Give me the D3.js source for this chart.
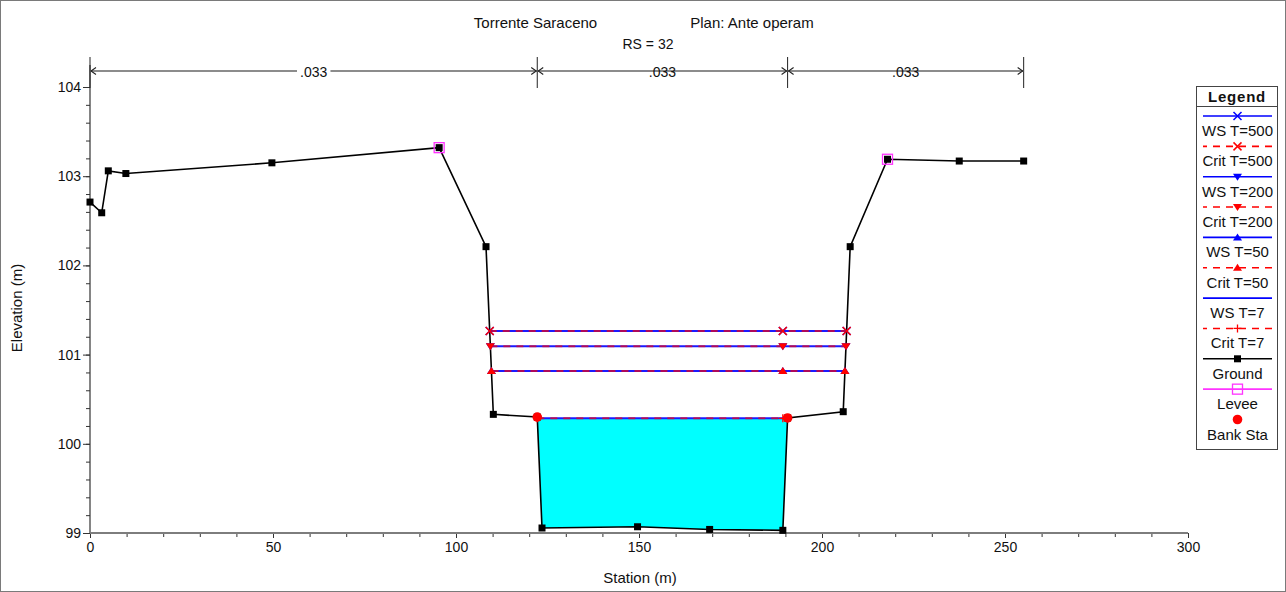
<!DOCTYPE html>
<html><head><meta charset="utf-8">
<script src="https://cdn.jsdelivr.net/npm/d3@7"></script>
<style>body{margin:0;background:#fff}svg{display:block;font-family:"Liberation Sans",Arial,sans-serif}</style>
</head><body><svg id="c" width="1286" height="592"></svg>
<script>
// ---------- data ----------
const groundStation = [0, 3.2, 5.0, 9.8, 49.7, 95.4, 108.2, 110.2, 122.2, 123.5, 149.6, 169.3, 189.3, 190.6, 205.8, 207.7, 217.9, 237.5, 255.1];
const groundElev    = [102.71, 102.59, 103.06, 103.03, 103.15, 103.32, 102.21, 100.33, 100.30, 99.056, 99.07, 99.04, 99.03, 100.29, 100.36, 102.21, 103.19, 103.17, 103.17];
const leveeStation = [95.4, 217.9];
const leveeElev = [103.32, 103.19];
const bankStation = [122.2, 190.6];
const bankElev = [100.30, 100.29];
const profileNames = ["T=500", "T=200", "T=50", "T=7"];
const wsElev   = [101.265, 101.093, 100.816, 100.286];
const critElev = [101.265, 101.093, 100.816, 100.286];
const profileMarkerStation = 189.3;
const nStations = [0, 122.2, 190.6, 255.1];
const nValues = [".033", ".033", ".033"];
const xTicks = [0, 50, 100, 150, 200, 250, 300];
const yTicks = [99, 100, 101, 102, 103, 104];
const legendLabels = ["WS T=500", "Crit T=500", "WS T=200", "Crit T=200", "WS T=50", "Crit T=50", "WS T=7", "Crit T=7", "Ground", "Levee", "Bank Sta"];

// ---------- layout ----------
const svg = d3.select("#c");
const x = d3.scaleLinear().domain([0, 300]).range([90, 1188]);
const y = d3.scaleLinear().domain([99, 104]).range([533, 87]);

svg.append("rect").attr("x", 0.5).attr("y", 0.5).attr("width", 1285).attr("height", 591)
  .attr("fill", "#fff").attr("stroke", "#7a7a7a");

// titles
svg.append("text").attr("x", 535.5).attr("y", 28).attr("text-anchor", "middle").attr("font-size", 15).attr("fill", "#111").text("Torrente Saraceno");
svg.append("text").attr("x", 752).attr("y", 28).attr("text-anchor", "middle").attr("font-size", 15).attr("fill", "#111").text("Plan: Ante operam");
svg.append("text").attr("x", 648).attr("y", 49).attr("text-anchor", "middle").attr("font-size", 14).attr("fill", "#111").text("RS = 32");

// axes
const yMinor = d3.range(99, 104.001, 0.2);
const xMinor = d3.range(0, 300.001, 10);
const ga = svg.append("g");
ga.append("g").attr("transform", "translate(90,0)")
  .call(d3.axisLeft(y).tickValues(yMinor).tickSize(4).tickFormat(""))
  .call(g => g.select(".domain").remove())
  .call(g => g.selectAll("line").attr("stroke", "#333"));
ga.append("g").attr("transform", "translate(90,0)")
  .call(d3.axisLeft(y).tickValues(yTicks).tickSize(7).tickPadding(2).tickFormat(d3.format("d")))
  .call(g => g.select(".domain").remove())
  .call(g => g.selectAll("line").attr("stroke", "#333"))
  .call(g => g.selectAll("text").attr("font-size", 14).attr("fill", "#111").attr("font-family", "Liberation Sans, Arial, sans-serif"));
ga.append("line").attr("x1", 90).attr("x2", 90).attr("y1", 65).attr("y2", 533).attr("stroke", "#333").attr("stroke-width", 1.2);

ga.append("g").attr("transform", "translate(0,533)")
  .call(d3.axisBottom(x).tickValues(xMinor).tickSize(4).tickFormat(""))
  .call(g => g.select(".domain").remove())
  .call(g => g.selectAll("line").attr("stroke", "#333"));
ga.append("g").attr("transform", "translate(0,533)")
  .call(d3.axisBottom(x).tickValues(xTicks).tickSize(5).tickPadding(4).tickFormat(d3.format("d")))
  .call(g => g.select(".domain").remove())
  .call(g => g.selectAll("line").attr("stroke", "#333"))
  .call(g => g.selectAll("text").attr("font-size", 14).attr("fill", "#111").attr("font-family", "Liberation Sans, Arial, sans-serif"));
ga.append("line").attr("x1", x(0)).attr("x2", x(300)).attr("y1", 533).attr("y2", 533).attr("stroke", "#7d7d7d").attr("stroke-width", 2.2);

svg.append("text").attr("transform", "translate(22,308) rotate(-90)").attr("text-anchor", "middle")
  .attr("font-size", 15).attr("fill", "#111").text("Elevation (m)");
svg.append("text").attr("x", 640).attr("y", 583).attr("text-anchor", "middle")
  .attr("font-size", 15).attr("fill", "#111").text("Station (m)");

// Manning n bar
const nb = svg.append("g");
const nY = 71;
nStations.forEach(s => nb.append("line").attr("x1", x(s)).attr("x2", x(s)).attr("y1", 57).attr("y2", 88).attr("stroke", "#222").attr("stroke-width", 1));
nValues.forEach((v, i) => {
  const x1 = x(nStations[i]), x2 = x(nStations[i + 1]);
  nb.append("line").attr("x1", x1).attr("x2", x2).attr("y1", nY).attr("y2", nY).attr("stroke", "#666").attr("stroke-width", 1.3);
  nb.append("path").attr("d", `M${x1 + 6},${nY - 3.5}L${x1 + 1},${nY}L${x1 + 6},${nY + 3.5}`).attr("fill", "none").attr("stroke", "#222").attr("stroke-width", 1.1);
  nb.append("path").attr("d", `M${x2 - 6},${nY - 3.5}L${x2 - 1},${nY}L${x2 - 6},${nY + 3.5}`).attr("fill", "none").attr("stroke", "#222").attr("stroke-width", 1.1);
  const t = nb.append("text").attr("x", (x1 + x2) / 2).attr("y", nY + 6).attr("text-anchor", "middle").attr("font-size", 14).attr("fill", "#111").text(v);
  const bb = t.node().getBBox();
  nb.insert("rect", "text").attr("x", bb.x - 3).attr("y", nY - 3).attr("width", bb.width + 6).attr("height", 6).attr("fill", "#fff");
});

// ---------- water surface extents ----------
const ground = groundStation.map((s, i) => [s, groundElev[i]]);
const iMin = d3.minIndex(groundElev);
function wetExtent(ws) {
  let i = iMin;
  while (i > 0 && groundElev[i - 1] < ws) i--;
  const a = ground[i - 1], b = ground[i];
  const left = a[0] + (b[0] - a[0]) * (a[1] - ws) / (a[1] - b[1]);
  let j = iMin;
  while (j < ground.length - 1 && groundElev[j + 1] < ws) j++;
  const c = ground[j], d = ground[j + 1];
  const right = c[0] + (d[0] - c[0]) * (ws - c[1]) / (d[1] - c[1]);
  return {left, right, i, j};
}

const plot = svg.append("g");
// fill for lowest profile
const low = wsElev[wsElev.length - 1];
const ext = wetExtent(low);
const poly = [[ext.left, low]].concat(ground.slice(ext.i, ext.j + 1)).concat([[ext.right, low]]);
plot.append("path").attr("d", d3.line().x(d => x(d[0])).y(d => y(d[1]))(poly) + "Z").attr("fill", "#00ffff").attr("stroke", "none");

const line = d3.line().x(d => x(d[0])).y(d => y(d[1]));
const wsMarkers = ["x", "down", "up", null];
const critMarkers = ["x", "down", "up", "plus"];

function marker(g, type, cx, cy, color, sz) {
  sz = sz || 4;
  if (type === "x") g.append("path").attr("d", `M${cx - sz},${cy - sz}L${cx + sz},${cy + sz}M${cx - sz},${cy + sz}L${cx + sz},${cy - sz}`).attr("stroke", color).attr("stroke-width", 1.5).attr("fill", "none");
  else if (type === "plus") g.append("path").attr("d", `M${cx - sz},${cy}L${cx + sz},${cy}M${cx},${cy - sz}L${cx},${cy + sz}`).attr("stroke", color).attr("stroke-width", 1.3).attr("fill", "none");
  else if (type === "down") g.append("path").attr("d", `M${cx - sz - 0.5},${cy - sz + 1}L${cx + sz + 0.5},${cy - sz + 1}L${cx},${cy + sz}Z`).attr("fill", color);
  else if (type === "up") g.append("path").attr("d", `M${cx - sz - 0.5},${cy + sz - 1}L${cx + sz + 0.5},${cy + sz - 1}L${cx},${cy - sz}Z`).attr("fill", color);
  else if (type === "square") g.append("rect").attr("x", cx - 3.5).attr("y", cy - 3.5).attr("width", 7).attr("height", 7).attr("fill", color);
  else if (type === "osquare") g.append("rect").attr("x", cx - 5).attr("y", cy - 5).attr("width", 10).attr("height", 10).attr("fill", "none").attr("stroke", color).attr("stroke-width", 1.3);
  else if (type === "circle") g.append("circle").attr("cx", cx).attr("cy", cy).attr("r", 4.8).attr("fill", color);
}

const markerLayer = [];
wsElev.forEach((ws, k) => {
  const e = wetExtent(ws);
  plot.append("path").attr("d", line([[e.left, ws], [e.right, ws]])).attr("stroke", "#1a1aff").attr("stroke-width", 2).attr("fill", "none");
  const ce = critElev[k];
  const e2 = wetExtent(ce);
  plot.append("path").attr("d", line([[e2.left, ce], [e2.right, ce]])).attr("stroke", "#ff0000").attr("stroke-opacity", 0.65)
    .attr("stroke-width", 2).attr("stroke-dasharray", "7,6").attr("fill", "none");
  [e.left, profileMarkerStation, e.right].forEach(s => {
    if (wsMarkers[k]) markerLayer.push([wsMarkers[k], s, ws, "#0000ff"]);
    markerLayer.push([critMarkers[k], s, ce, "#ff0000"]);
  });
});

// ground
plot.append("path").attr("d", line(ground)).attr("stroke", "#000").attr("stroke-width", 1.6).attr("fill", "none");
ground.forEach(p => marker(plot, "square", x(p[0]), y(p[1]), "#000"));
leveeStation.forEach((s, i) => marker(plot, "osquare", x(s), y(leveeElev[i]), "#ff33ff"));
markerLayer.forEach(m => marker(plot, m[0], x(m[1]), y(m[2]), m[3]));
bankStation.forEach((s, i) => marker(plot, "circle", x(s), y(bankElev[i]), "#ff0000"));

// ---------- legend ----------
const lg = svg.append("g");
lg.append("rect").attr("x", 1196.5).attr("y", 86.5).attr("width", 81).attr("height", 363).attr("fill", "#fff").attr("stroke", "#444");
lg.append("line").attr("x1", 1196.5).attr("x2", 1277.5).attr("y1", 106.5).attr("y2", 106.5).attr("stroke", "#444");
lg.append("text").attr("x", 1237).attr("y", 102).attr("text-anchor", "middle").attr("font-size", 15).attr("font-weight", "bold").attr("letter-spacing", 0.8).attr("fill", "#111").text("Legend");
const legendStyle = [
  {c: "#0000ff", dash: null, m: "x", mc: "#0000ff"},
  {c: "#ff0000", dash: "7,6", m: "x", mc: "#ff0000"},
  {c: "#0000ff", dash: null, m: "down", mc: "#0000ff"},
  {c: "#ff0000", dash: "7,6", m: "down", mc: "#ff0000"},
  {c: "#0000ff", dash: null, m: "up", mc: "#0000ff"},
  {c: "#ff0000", dash: "7,6", m: "up", mc: "#ff0000"},
  {c: "#0000ff", dash: null, m: null},
  {c: "#ff0000", dash: "7,6", m: "plus", mc: "#ff0000"},
  {c: "#000", dash: null, m: "square", mc: "#000"},
  {c: "#ff33ff", dash: null, m: "osquare", mc: "#ff33ff"},
  {c: null, dash: null, m: "circle", mc: "#ff0000"}
];
legendLabels.forEach((lab, i) => {
  const ly = 116 + i * 30.35;
  const st = legendStyle[i];
  if (st.c) {
    const l = lg.append("line").attr("x1", 1203).attr("x2", 1272).attr("y1", ly).attr("y2", ly).attr("stroke", st.c).attr("stroke-width", 1.6);
    if (st.dash) l.attr("stroke-dasharray", st.dash).attr("stroke-dashoffset", 3);
  }
  if (st.m) marker(lg, st.m, 1237.5, ly, st.mc);
  lg.append("text").attr("x", 1237.5).attr("y", ly + 20).attr("text-anchor", "middle").attr("font-size", 15).attr("fill", "#111").text(lab);
});
</script></body></html>
